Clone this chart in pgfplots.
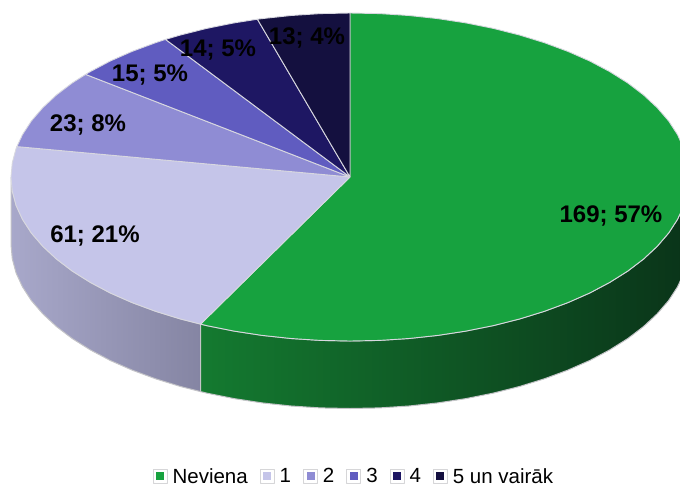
\documentclass[border=0pt]{standalone}
\usepackage{fontspec}
\setmainfont{Liberation Sans}
\usepackage{pgfplots}
\pgfplotsset{compat=1.18}
\definecolor{cA}{HTML}{17A23F}
\definecolor{cB}{HTML}{C5C5E9}
\definecolor{cC}{HTML}{8F8CD4}
\definecolor{cD}{HTML}{605CC0}
\definecolor{cE}{HTML}{1E1763}
\definecolor{cF}{HTML}{14103F}
\definecolor{edge}{HTML}{D8D8E0}
\definecolor{rim}{HTML}{C4C4C8}
\definecolor{wallBl}{HTML}{A8A8CA}
\definecolor{wallBr}{HTML}{8585A3}
\definecolor{wallAl}{HTML}{147A30}
\definecolor{wallAm}{HTML}{0A3B1B}
\definecolor{wallAr}{HTML}{0A3419}
\begin{document}
\begin{tikzpicture}
\useasboundingbox (0,0) rectangle (680pt,488pt);
\begin{axis}[
  at={(0,0)}, anchor=south west,
  scale only axis, width=680pt, height=488pt,
  xmin=0, xmax=680, ymin=0, ymax=488, y dir=reverse,
  hide axis, clip=true,
  legend columns=6,
  legend style={draw=none, fill=none, font=\fontsize{20.5}{22}\selectfont,
    at={(0.519,0.007)}, anchor=south, inner sep=0pt, outer sep=0pt,
    /tikz/every odd column/.append style={column sep=5pt},
    /tikz/every even column/.append style={column sep=12pt},
    nodes={inner sep=0pt}},
  legend image code/.code={
    \fill[rim!70] (0pt,-7pt) rectangle (14pt,7pt);
    \fill[white] (1pt,-6pt) rectangle (13pt,6pt);
    \draw[#1,draw=none] (3pt,-4pt) rectangle (11pt,4pt);
  },
  every axis plot/.append style={line join=round, mark=none},
]
% side walls
\addplot[forget plot, draw=rim, line width=1pt, left color=wallBl, right color=wallBr] coordinates {
(11,177)(12.3,191.3)(16.1,205.5)(22.5,219.4)(31.4,233.1)(42.8,246.3)(56.4,259)(72.3,271.1)(90.3,282.4)(110.3,293)(132.1,302.6)(155.6,311.3)(180.5,319)(200.6,324.1)
(200.6,391.6)(180.5,386.5)(155.6,378.8)(132.1,370.1)(110.3,360.5)(90.3,349.9)(72.3,338.6)(56.4,326.5)(42.8,313.8)(31.4,300.6)(22.5,286.9)(16.1,273)(12.3,258.8)(11,244.5)(11,177)};
\addplot[forget plot, draw=rim, line width=1pt, left color=wallAl, middle color=wallAm, right color=wallAr] coordinates {
(200.6,324.1)(206.7,325.6)(234.1,331.1)(262.3,335.4)(291.1,338.5)(320.5,340.4)(350,341)(379.5,340.4)(408.9,338.5)(437.7,335.4)(465.9,331.1)(493.3,325.6)(519.5,319)(544.4,311.3)(567.9,302.6)(589.7,293)(609.7,282.4)(627.7,271.1)(643.6,259)(657.2,246.3)(668.6,233.1)(677.5,219.4)(683.9,205.5)(687.7,191.3)(689,177)
(689,244.5)(687.7,258.8)(683.9,273)(677.5,286.9)(668.6,300.6)(657.2,313.8)(643.6,326.5)(627.7,338.6)(609.7,349.9)(589.7,360.5)(567.9,370.1)(544.4,378.8)(519.5,386.5)(493.3,393.1)(465.9,398.6)(437.7,402.9)(408.9,406)(379.5,407.9)(350,408.5)(320.5,407.9)(291.1,406)(262.3,402.9)(234.1,398.6)(206.7,393.1)(200.6,391.6)(200.6,324.1)};
% top wedges
\addplot[fill=cA, draw=edge, line width=0.9pt] coordinates {
(350,177)(350,13)(379.5,13.6)(408.9,15.5)(437.7,18.6)(465.9,22.9)(493.3,28.4)(519.5,35)(544.4,42.7)(567.9,51.4)(589.7,61)(609.7,71.6)(627.7,82.9)(643.6,95)(657.2,107.7)(668.6,120.9)(677.5,134.6)(683.9,148.5)(687.7,162.7)(689,177)(687.7,191.3)(683.9,205.5)(677.5,219.4)(668.6,233.1)(657.2,246.3)(643.6,259)(627.7,271.1)(609.7,282.4)(589.7,293)(567.9,302.6)(544.4,311.3)(519.5,319)(493.3,325.6)(465.9,331.1)(437.7,335.4)(408.9,338.5)(379.5,340.4)(350,341)(320.5,340.4)(291.1,338.5)(262.3,335.4)(234.1,331.1)(206.7,325.6)(200.6,324.1)(350,177)};
\addlegendentry{Neviena}
\addplot[fill=cB, draw=edge, line width=0.9pt] coordinates {
(350,177)(200.6,324.1)(180.5,319)(155.6,311.3)(132.1,302.6)(110.3,293)(90.3,282.4)(72.3,271.1)(56.4,259)(42.8,246.3)(31.4,233.1)(22.5,219.4)(16.1,205.5)(12.3,191.3)(11,177)(12.3,162.7)(16.1,148.5)(16.9,146.6)(350,177)};
\addlegendentry{1}
\addplot[fill=cC, draw=edge, line width=0.9pt] coordinates {
(350,177)(16.9,146.6)(22.5,134.6)(31.4,120.9)(42.8,107.7)(56.4,95)(72.3,82.9)(85.6,74.4)(350,177)};
\addlegendentry{2}
\addplot[fill=cD, draw=edge, line width=0.9pt] coordinates {
(350,177)(85.6,74.4)(90.3,71.6)(110.3,61)(132.1,51.4)(155.6,42.7)(165.5,39.4)(350,177)};
\addlegendentry{3}
\addplot[fill=cE, draw=edge, line width=0.9pt] coordinates {
(350,177)(165.5,39.4)(180.5,35)(206.7,28.4)(234.1,22.9)(257.4,19.2)(350,177)};
\addlegendentry{4}
\addplot[fill=cF, draw=edge, line width=0.9pt] coordinates {
(350,177)(257.4,19.2)(262.3,18.6)(291.1,15.5)(320.5,13.6)(350,13)(350,177)};
\addlegendentry{5 un vairāk}
% data labels
\begin{scope}[every node/.style={font=\fontsize{24}{26}\selectfont\bfseries, text=black, inner sep=0pt}]
\node at (axis cs:611,216) {169; 57\%};
\node at (axis cs:95,236) {61; 21\%};
\node at (axis cs:88,125) {23; 8\%};
\node at (axis cs:150,75) {15; 5\%};
\node at (axis cs:218,50) {14; 5\%};
\node at (axis cs:307,38) {13; 4\%};
\end{scope}
\end{axis}
\end{tikzpicture}
\end{document}
